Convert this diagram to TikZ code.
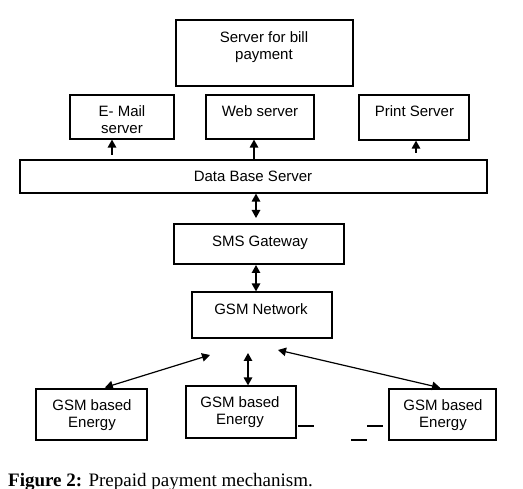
\documentclass[tikz,border=0pt]{standalone}
\usepackage{fontspec}
\setmainfont{Liberation Sans}
\newfontfamily\capfont{Liberation Serif}
\usetikzlibrary{arrows.meta}
\newcommand\mybox[5]{\node[box,minimum width={(#4-#2)*1pt},minimum height={(#5-#3)*1pt}] (#1) at ({(#2+#4)/2},{(#3+#5)/2}) {};}
\begin{document}
\begin{tikzpicture}[x=1pt,y=-1pt,
  box/.style={draw,line width=1.2pt,inner sep=0pt,rectangle},
  lbl/.style={anchor=base,inner sep=0pt,font=\fontsize{15}{17}\selectfont},
  sarr/.style={line width=1.4pt,-{Triangle[length=8pt,width=8.5pt]}},
  darr/.style={line width=1.4pt,{Triangle[length=8pt,width=8.5pt]}-{Triangle[length=8pt,width=8.5pt]}},
  dash line/.style={line width=1.1pt}]
\useasboundingbox[fill=white] (0,0) rectangle (523,489);
% boxes
\mybox{bill}{176}{20}{353}{86}
\mybox{email}{70}{95}{174}{139}
\mybox{web}{206}{95}{314}{139}
\mybox{print}{359}{95}{469}{140}
\mybox{db}{20}{160}{487}{193}
\mybox{sms}{174}{224}{344}{264}
\mybox{gsmn}{192}{292}{332}{338}
\mybox{e1}{36}{389}{147}{440}
\mybox{e2}{186}{386}{296}{438}
\mybox{e3}{389}{389}{496}{440}
% labels
\node[lbl] (t1) at (264,43) {Server for bill};
\node[lbl] (t2) at (264,60) {payment};
\begin{scope}
\clip (70,95) rectangle (174,134);
\node[lbl] (t3) at (122,117) {E- Mail};
\node[lbl] (t4) at (122,133.5) {server};
\end{scope}
\node[lbl] (t5) at (260,117) {Web server};
\node[lbl] (t6) at (414.5,117) {Print Server};
\node[lbl] (t7) at (253,182) {Data Base Server};
\node[lbl] (t8) at (260,247) {SMS Gateway};
\node[lbl] (t9) at (261,315) {GSM Network};
\node[lbl] (t10) at (92,411) {GSM based};
\node[lbl] (t11) at (92,428) {Energy};
\node[lbl] (t12) at (240,408) {GSM based};
\node[lbl] (t13) at (240,425) {Energy};
\node[lbl] (t14) at (443,411) {GSM based};
\node[lbl] (t15) at (443,428) {Energy};
\node[anchor=base west,inner sep=0pt,font=\capfont\fontsize{19}{22}\selectfont] (cap) at (8,486) {\textbf{Figure 2:} Prepaid payment mechanism.};
% connectors
\coordinate (ea) at (112,155);
\coordinate (wx) at (254,150);
\coordinate (pa) at (416,153);
\coordinate (dx) at (256,200);
\coordinate (d2) at (256,218);
\coordinate (s2) at (256,265);
\coordinate (g1) at (210,355);
\coordinate (l1) at (102,380);
\coordinate (g2) at (248,353);
\coordinate (g3) at (278,350);
\coordinate (r3) at (443,380);
\draw[sarr] (ea) -- (ea |- email.south);
\draw[sarr] (wx |- db.north) -- (wx |- web.south);
\draw[sarr] (pa) -- (pa |- print.south);
\draw[darr] (dx |- db.south) -- (d2);
\draw[darr] (s2) -- (s2 |- gsmn.north);
\draw[darr,line width=1.2pt,shorten >=3pt] (g1) -- (l1 |- e1.north);
\draw[darr] (g2) -- (g2 |- e2.north);
\draw[darr,line width=1.2pt,shorten >=3pt] (g3) -- (r3 |- e3.north);
% small dashes
\draw[dash line] (298,426) -- (314,426);
\draw[dash line] (367,426) -- (383,426);
\draw[dash line] (351,440) -- (367,440);
\end{tikzpicture}
\end{document}
